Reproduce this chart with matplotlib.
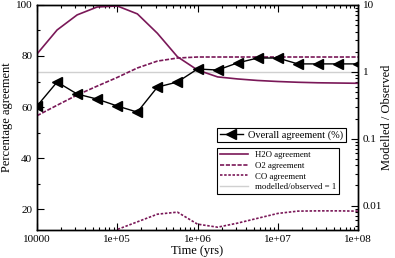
import numpy as np
import matplotlib
matplotlib.use("Agg")
import matplotlib.pyplot as plt
from matplotlib.lines import Line2D
from matplotlib.ticker import LogLocator, NullFormatter, MultipleLocator

plt.rcParams['font.family'] = ['Liberation Serif', 'DejaVu Serif']

# time grid, quarter decades from 1e4 to 1e8 yrs
time_yrs = [1e4, 1.78e4, 3.16e4, 5.62e4, 1e5, 1.78e5, 3.16e5, 5.62e5, 1e6,
            1.78e6, 3.16e6, 5.62e6, 1e7, 1.78e7, 3.16e7, 5.62e7, 1e8]

overall = [60.4, 69.8, 65.1, 63.1, 60.4, 58.0, 67.8, 69.8, 74.9,
           74.5, 77.3, 79.2, 79.2, 76.9, 76.9, 76.9, 76.9]
h2o = [80.8, 90.2, 96.1, 99.2, 99.6, 96.5, 88.9, 79.7, 74.5,
       71.8, 71.0, 70.4, 70.0, 69.7, 69.5, 69.4, 69.3]
o2 = [56.6, 60.7, 64.7, 68.2, 71.6, 75.3, 78.0, 79.2, 79.6,
      79.6, 79.6, 79.6, 79.6, 79.6, 79.6, 79.6, 79.6]
co = [5.0, 5.0, 5.0, 5.0, 12.0, 15.0, 18.0, 18.8, 14.1,
      12.9, 14.5, 16.4, 18.3, 19.2, 19.3, 19.3, 19.2]

ratio_one = [1, 1]
ratio_x = [1e4, 1e8]

purple = '#7a1858'

fig = plt.figure(figsize=(3.95, 2.58), dpi=100)
ax = fig.add_axes([0.0937, 0.1085, 0.8127, 0.8723])
ax2 = ax.twinx()

ax2.plot(ratio_x, ratio_one, color='#d0d0d0', lw=1.0, zorder=1)
ax.plot(time_yrs, h2o, color=purple, lw=1.2)
ax.plot(time_yrs, o2, color=purple, lw=1.2, ls=(0, (2.5, 1)))
ax.plot(time_yrs, co, color=purple, lw=1.2, ls=(0, (1.5, 1)))
ax.plot(time_yrs, overall, color='black', lw=1.0, marker='<', ms=6.5)
ax.set_zorder(ax2.get_zorder() + 1)
ax.patch.set_visible(False)

ax.set_xscale('log')
ax.set_xlim(1e4, 1e8)
ax.set_ylim(11.8, 100)
ax.set_xticks([1e4, 1e5, 1e6, 1e7, 1e8])
ax.set_xticklabels(['10000', '1e+05', '1e+06', '1e+07', '1e+08'])
ax.xaxis.set_minor_locator(LogLocator(base=10, subs=np.arange(2, 10)))
ax.xaxis.set_minor_formatter(NullFormatter())
ax.yaxis.set_major_locator(MultipleLocator(20))
ax.yaxis.set_minor_locator(MultipleLocator(10))
ax.tick_params(which='both', direction='in', top=True, right=False, labelsize=8)
ax.tick_params(which='major', length=5, width=0.8)
ax.tick_params(which='minor', length=2.5, width=0.8)
ax.set_xlabel('Time (yrs)', fontsize=9, labelpad=1)
ax.set_ylabel('Percentage agreement', fontsize=9, labelpad=2)

ax2.set_yscale('log')
ax2.set_ylim(0.0043, 10)
ax2.set_yticks([0.01, 0.1, 1, 10])
ax2.set_yticklabels(['0.01', '0.1', '1', '10'])
ax2.yaxis.set_minor_locator(LogLocator(base=10, subs=np.arange(2, 10)))
ax2.yaxis.set_minor_formatter(NullFormatter())
ax2.tick_params(which='both', direction='in', labelsize=8)
ax2.tick_params(which='major', length=5, width=0.8)
ax2.tick_params(which='minor', length=2.5, width=0.8)
ax2.set_ylabel('Modelled / Observed', fontsize=9)
ax2.yaxis.set_label_coords(1.072, 0.5)

for a in (ax, ax2):
    for s in a.spines.values():
        s.set_linewidth(1.0)

h1 = [Line2D([], [], color='black', lw=1.0, marker='<', ms=6.5, markevery=[1])]
leg1 = ax.legend(h1, ['Overall agreement (%)'], loc='upper left',
                 bbox_to_anchor=(0.561, 0.455), fontsize=7.5, fancybox=False,
                 edgecolor='black', framealpha=1, borderpad=0.25,
                 handlelength=2.2, handletextpad=0.5, borderaxespad=0)
leg1.get_frame().set_linewidth(0.8)
ax.add_artist(leg1)

h2 = [Line2D([], [], color=purple, lw=1.2),
      Line2D([], [], color=purple, lw=1.2, ls=(0, (2.5, 1))),
      Line2D([], [], color=purple, lw=1.2, ls=(0, (1.5, 1))),
      Line2D([], [], color='#d0d0d0', lw=1.0)]
leg2 = ax.legend(h2, ['H2O agreement', 'O2 agreement', 'CO agreement',
                      'modelled/observed = 1'],
                 loc='upper left', bbox_to_anchor=(0.561, 0.365), fontsize=6.3,
                 fancybox=False, edgecolor='black', framealpha=1,
                 borderpad=0.35, labelspacing=0.3, handlelength=3.2,
                 handletextpad=0.8, borderaxespad=0)
leg2.get_frame().set_linewidth(0.8)

fig.savefig('out.png', dpi=100)
